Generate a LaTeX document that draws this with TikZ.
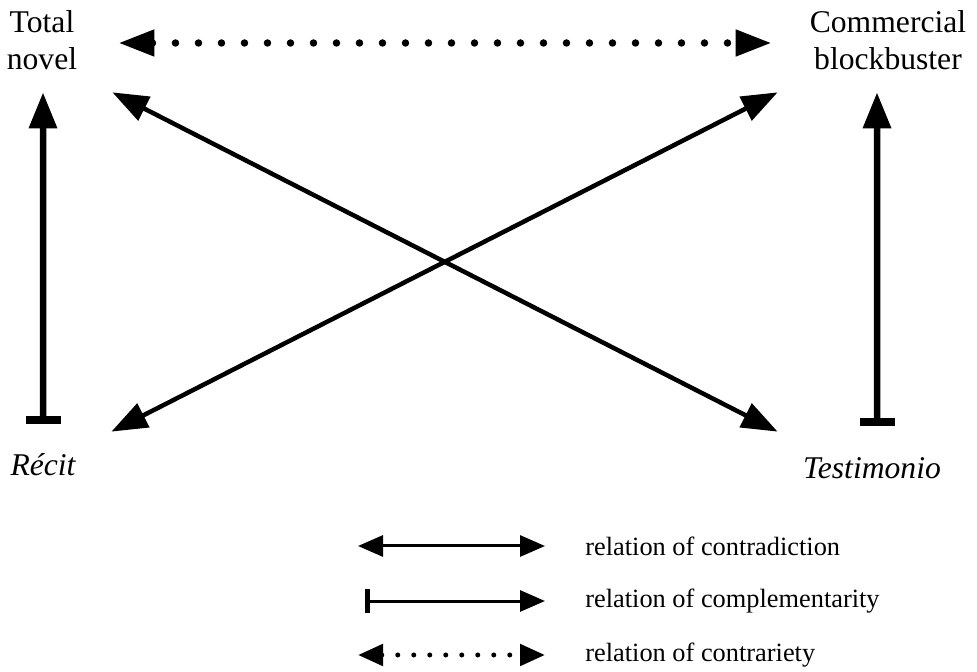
\documentclass[tikz,border=0pt]{standalone}
\usepackage{fontspec}
\setmainfont{Liberation Serif}
\usetikzlibrary{arrows.meta,calc}
\tikzset{
	term/.style={inner sep=0, align=center, font=\fontsize{18}{21}\selectfont},
	legtext/.style={inner sep=0, anchor=west, font=\fontsize{15}{18}\selectfont},
	contra/.style={line width=0.09cm, {Triangle[length=0.72cm,width=0.52cm]}-{Triangle[length=0.72cm,width=0.52cm]}},
	compl/.style={line width=0.13cm, {Bar[width=0.7cm,line width=0.16cm]}-{Triangle[length=0.72cm,width=0.54cm]}},
	contrary/.style={line width=0.15cm, line cap=round, dash pattern=on 0pt off 0.46cm, {Triangle[length=0.72cm,width=0.5cm]}-{Triangle[length=0.72cm,width=0.5cm]}},
	contralegend/.style={line width=0.06cm, {Triangle[length=0.5cm,width=0.42cm]}-{Triangle[length=0.5cm,width=0.42cm]}},
	compllegend/.style={line width=0.06cm, {Bar[width=0.46cm,line width=0.1cm]}-{Triangle[length=0.5cm,width=0.42cm]}},
	contrarylegend/.style={line width=0.1cm, line cap=round, dash pattern=on 0pt off 0.32cm, {Triangle[length=0.5cm,width=0.42cm]}-{Triangle[length=0.5cm,width=0.42cm]}}
}

\begin{document}
\begin{tikzpicture}
		%%%%% START %%%%%
		\useasboundingbox (0, 0) rectangle (19.54, 13.42);
		
		\node[term, minimum width=1.6cm, minimum height=1.3cm] (novel) at (0.84, 12.62) {Total\\novel};
		\node[term, minimum width=3.4cm, minimum height=1.3cm] (blockbuster) at (17.76, 12.62) {Commercial\\blockbuster};
		\node[term, minimum width=1.4cm, minimum height=0.8cm] (recit) at (0.86, 4.12) {\itshape Récit};
		\node[term, minimum width=3.0cm, minimum height=0.8cm] (testimonio) at (17.44, 4.06) {\itshape Testimonio};
		
		\draw[contrary] ($(novel.east)+(0.72, -0.06)$) -- ($(blockbuster.west)+(-0.62, -0.06)$);
		
		\draw[compl] ($(recit.north)+(0, 0.42)$) -- ($(novel.south)+(0.02, -0.39)$);
		\draw[compl] ($(testimonio.north)+(0.1, 0.44)$) -- ($(blockbuster.south)+(-0.22, -0.39)$);
		
		\draw[contra] ($(novel.south east)+(0.6, -0.39)$) -- ($(testimonio.north west)+(-0.38, 0.32)$);
		\draw[contra] ($(recit.north east)+(0.66, 0.26)$) -- ($(blockbuster.south west)+(-0.5, -0.39)$);
		
		\node[legtext] (contradiction) at (11.7, 2.5) {relation of contradiction};
		\node[legtext] (complementarity) at (11.7, 1.4) {relation of complementarity};
		\node[legtext] (contrariety) at (11.7, 0.32) {relation of contrariety};
		
		\coordinate (start1) at (7.16, 2.5);
		\coordinate (start2) at (7.3, 1.4);
		\coordinate (start3) at (7.16, 0.32);
		
		\draw[contralegend] (start1) -- ($(contradiction.west)+(-0.8, 0)$);
		\draw[compllegend] (start2) -- ($(complementarity.west)+(-0.8, 0)$);
		\draw[contrarylegend] (start3) -- ($(contrariety.west)+(-0.8, 0)$);
		
		%%%%% END %%%%%
	\end{tikzpicture}
\end{document}
